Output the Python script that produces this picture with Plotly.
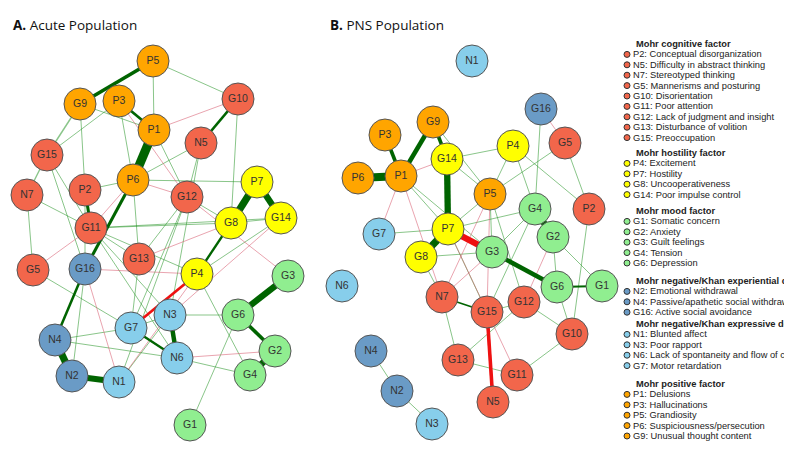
import plotly.graph_objects as go

# ---- node layout (panel A: acute population) ----
nodes_a = ["P5", "G9", "P3", "P1", "G10", "N5", "G15", "P6", "P2", "N7",
           "G12", "P7", "G8", "G14", "G11", "G13", "G16", "G5", "P4", "G3",
           "N3", "G6", "G7", "N4", "N6", "G2", "G4", "N2", "N1", "G1"]
xs_a = [153, 80, 119, 154, 238, 201, 47, 133, 85, 27,
        187, 257, 231, 281, 91, 139, 85, 33, 197, 288,
        170, 238, 131, 55, 177, 275, 250, 72, 119, 190]
ys_a = [61, 104, 101, 130, 99, 143, 155, 180, 190, 195,
        197, 182, 223, 218, 228, 259, 269, 270, 274, 276,
        315, 315, 328, 340, 358, 351, 375, 376, 382, 425]

# ---- node layout (panel B: PNS population) ----
nodes_b = ["N1", "G16", "G9", "P3", "P4", "G5", "G14", "P1", "P6", "P5",
           "P2", "G4", "G2", "G7", "P7", "G8", "G3", "G6", "G1", "N6",
           "N7", "G15", "G12", "G10", "G13", "G11", "N5", "N4", "N2", "N3"]
xs_b = [472, 541, 433, 385, 513, 565, 447, 401, 358, 490,
        589, 535, 553, 379, 448, 421, 492, 557, 602, 342,
        442, 487, 524, 572, 458, 517, 493, 371, 397, 432]
ys_b = [61, 109, 122, 135, 146, 143, 159, 176, 178, 194,
        209, 209, 237, 234, 229, 257, 252, 287, 286, 286,
        297, 312, 302, 334, 360, 375, 402, 351, 391, 424]

# ---- edges (partial correlation weights, sign = colour) ----
edges_a = [
    ("P1", "P6", 0.5), ("P5", "G9", 0.2), ("P1", "P3", 0.15), ("G10", "N5", 0.15),
    ("P6", "G16", 0.17), ("G16", "N4", 0.14), ("P2", "G11", 0.17), ("G15", "N7", 0.08),
    ("G15", "G9", 0.08), ("P7", "G8", 0.4), ("P7", "G14", 0.35), ("G3", "G6", 0.35),
    ("G6", "G2", 0.2), ("G2", "G4", 0.35), ("N3", "N6", 0.25), ("G7", "N6", 0.13),
    ("N4", "N2", 0.4), ("N2", "N1", 0.35), ("P4", "G7", -0.15), ("P4", "G8", 0.13),
    ("P5", "P1", 0.05), ("P5", "G10", 0.05), ("G15", "P3", 0.05), ("G9", "P2", 0.05),
    ("G9", "P1", 0.05), ("P3", "P6", 0.05), ("P1", "G12", 0.05), ("N5", "P6", 0.05),
    ("N5", "G12", 0.05), ("N5", "N3", 0.05), ("G10", "G8", 0.05), ("P6", "P7", 0.05),
    ("P6", "P2", 0.05), ("G15", "G11", 0.05), ("G15", "G16", 0.05), ("N7", "G11", 0.05),
    ("N7", "G5", 0.05), ("G11", "G8", 0.05), ("G11", "G14", 0.05), ("G11", "G13", 0.05),
    ("G11", "N3", 0.05), ("G11", "P4", 0.05), ("G12", "G13", 0.05), ("G12", "G7", 0.05),
    ("G12", "N1", 0.05), ("G8", "G14", 0.05), ("G14", "P4", 0.05), ("G5", "G7", 0.05),
    ("G16", "N2", 0.05), ("N4", "G7", 0.05), ("N4", "N6", 0.05), ("G7", "N3", 0.05),
    ("N3", "G6", 0.05), ("N6", "G4", 0.05), ("G6", "G1", 0.05), ("P4", "G4", 0.05),
    ("N1", "N3", 0.05), ("G12", "G8", 0.05), ("P2", "G16", 0.05), ("G13", "G7", 0.05),
    ("G11", "N6", 0.05), ("P6", "G13", 0.05),
    ("P3", "G12", -0.05), ("P1", "G10", -0.05), ("P6", "G12", -0.05), ("G5", "G11", -0.05),
    ("G16", "P4", -0.05), ("G16", "N1", -0.05), ("N6", "G2", -0.05), ("N1", "P4", -0.05),
    ("G12", "G3", -0.05), ("G14", "N3", -0.05), ("P6", "G11", -0.05), ("G8", "G13", -0.05),
]

edges_b = [
    ("P6", "P1", 0.45), ("P3", "P1", 0.2), ("P1", "G9", 0.25), ("G9", "G14", 0.2),
    ("G14", "P7", 0.35), ("P7", "G8", 0.4), ("P7", "G3", -0.35), ("G3", "G6", 0.25),
    ("G4", "G2", 0.35), ("G15", "N5", -0.2), ("G6", "G1", 0.1), ("N7", "G15", 0.1),
    ("P1", "P7", 0.05), ("P1", "G3", 0.05), ("G14", "P4", 0.05), ("G14", "P5", 0.05),
    ("G9", "P5", 0.05), ("P4", "P5", 0.05), ("P4", "G4", 0.05), ("P4", "P2", 0.05),
    ("G16", "G4", 0.05), ("G5", "P5", 0.05), ("G5", "P2", 0.05), ("P5", "P7", 0.05),
    ("P5", "G3", 0.05), ("G4", "P7", 0.05), ("G4", "G15", 0.05), ("G2", "G1", 0.05),
    ("G2", "G6", 0.05), ("P2", "G10", 0.05), ("G7", "P7", 0.05), ("G8", "G3", 0.05),
    ("G8", "N7", 0.05), ("P7", "G15", 0.05), ("N7", "G13", 0.05), ("G15", "G12", 0.05),
    ("G12", "G10", 0.05), ("G13", "G11", 0.05), ("G13", "G12", 0.05), ("G11", "G10", 0.05),
    ("G6", "G10", 0.05), ("N4", "N2", 0.05), ("N2", "N3", 0.05), ("P5", "G12", 0.05),
    ("G3", "G4", 0.05),
    ("P1", "G14", -0.05), ("P1", "G7", -0.05), ("P1", "N7", -0.05), ("G16", "G5", -0.05),
    ("P5", "G15", -0.05), ("P5", "N7", -0.05), ("G2", "G12", -0.05), ("P7", "G11", -0.05),
    ("G3", "N7", -0.05),
]

# ---- factor groups (legend, text as visible in the original) ----
factor_names = ["Mohr cognitive factor", "Mohr hostility factor", "Mohr mood factor",
                "Mohr negative/Khan experiential de",
                "Mohr negative/Khan expressive def", "Mohr positive factor"]
factor_items = [
    ["P2", "N5", "N7", "G5", "G10", "G11", "G12", "G13", "G15"],
    ["P4", "P7", "G8", "G14"],
    ["G1", "G2", "G3", "G4", "G6"],
    ["N2", "N4", "G16"],
    ["N1", "N3", "N6", "G7"],
    ["P1", "P3", "P5", "P6", "G9"],
]
item_labels = {
    "P2": "Conceptual disorganization", "N5": "Difficulty in abstract thinking",
    "N7": "Stereotyped thinking", "G5": "Mannerisms and posturing",
    "G10": "Disorientation", "G11": "Poor attention",
    "G12": "Lack of judgment and insight", "G13": "Disturbance of volition",
    "G15": "Preoccupation", "P4": "Excitement", "P7": "Hostility",
    "G8": "Uncooperativeness", "G14": "Poor impulse control",
    "G1": "Somatic concern", "G2": "Anxiety", "G3": "Guilt feelings",
    "G4": "Tension", "G6": "Depression", "N2": "Emotional withdrawal",
    "N4": "Passive/apathetic social withdraw", "G16": "Active social avoidance",
    "N1": "Blunted affect", "N3": "Poor rapport",
    "N6": "Lack of spontaneity and flow of co", "G7": "Motor retardation",
    "P1": "Delusions", "P3": "Hallucinations", "P5": "Grandiosity",
    "P6": "Suspiciousness/persecution", "G9": "Unusual thought content",
}
factor_colors = ["#F2664B", "#FFFF00", "#90EE90", "#6A9BC6", "#87CEEB", "#FFA500"]

node_color = {}
for col, items in zip(factor_colors, factor_items):
    for it in items:
        node_color[it] = col


def edge_style(w):
    a = abs(w)
    width = max(1.0, a * 18)
    if w > 0:
        color = "#006400" if a >= 0.1 else "rgba(40,150,40,0.55)"
    else:
        color = "#EE1111" if a >= 0.1 else "rgba(215,90,110,0.55)"
    return width, color


fig = go.Figure()


def add_network(nodes, xs, ys, edges):
    pos = {n: (x, y) for n, x, y in zip(nodes, xs, ys)}
    # thin edges first, thick ones on top
    for a, b, w in sorted(edges, key=lambda e: abs(e[2])):
        width, color = edge_style(w)
        fig.add_trace(go.Scatter(
            x=[pos[a][0], pos[b][0]], y=[pos[a][1], pos[b][1]],
            mode="lines", line=dict(color=color, width=width),
            hoverinfo="skip", showlegend=False
        ))
    fig.add_trace(go.Scatter(
        x=xs, y=ys, mode="markers+text", text=nodes,
        textfont=dict(family="Liberation Sans, Arial", size=10.5, color="#333333"),
        marker=dict(size=32, color=[node_color[n] for n in nodes],
                    line=dict(color="#555555", width=1)),
        hoverinfo="text", showlegend=False
    ))


add_network(nodes_a, xs_a, ys_a, edges_a)
add_network(nodes_b, xs_b, ys_b, edges_b)

# panel titles
title_font = dict(family="Open Sans", size=13.5, color="#111111")
fig.add_annotation(x=11, y=25, text="<b>A.</b> Acute Population", showarrow=False,
                   xanchor="left", yanchor="middle", font=title_font)
fig.add_annotation(x=328, y=25, text="<b>B.</b> PNS Population", showarrow=False,
                   xanchor="left", yanchor="middle", font=title_font)

# legend
header_y = [44, 153, 211, 281, 324, 384]
leg_font = dict(family="Liberation Sans, Arial", size=9.3, color="#222222")
dot_x, dot_y, dot_c = [], [], []
for name, items, col, hy in zip(factor_names, factor_items, factor_colors, header_y):
    fig.add_annotation(x=634, y=hy, text="<b>" + name + "</b>", showarrow=False,
                       xanchor="left", yanchor="middle", font=leg_font)
    for i, it in enumerate(items):
        yy = hy + 10.4 * (i + 1)
        fig.add_annotation(x=631, y=yy, text=it + ": " + item_labels[it],
                           showarrow=False, xanchor="left", yanchor="middle",
                           font=leg_font)
        dot_x.append(627)
        dot_y.append(yy)
        dot_c.append(col)

fig.add_trace(go.Scatter(
    x=dot_x, y=dot_y, mode="markers",
    marker=dict(size=6, color=dot_c, line=dict(color="#333333", width=1)),
    hoverinfo="skip", showlegend=False
))

# page body has an 8px margin, so the plot starts at (8, 8)
fig.update_layout(
    width=784, height=445,
    margin=dict(l=0, r=0, t=0, b=0),
    paper_bgcolor="white", plot_bgcolor="white",
    xaxis=dict(range=[8, 792], visible=False, fixedrange=True),
    yaxis=dict(range=[453, 8], visible=False, fixedrange=True),
    showlegend=False
)

fig.write_html("out.html")
